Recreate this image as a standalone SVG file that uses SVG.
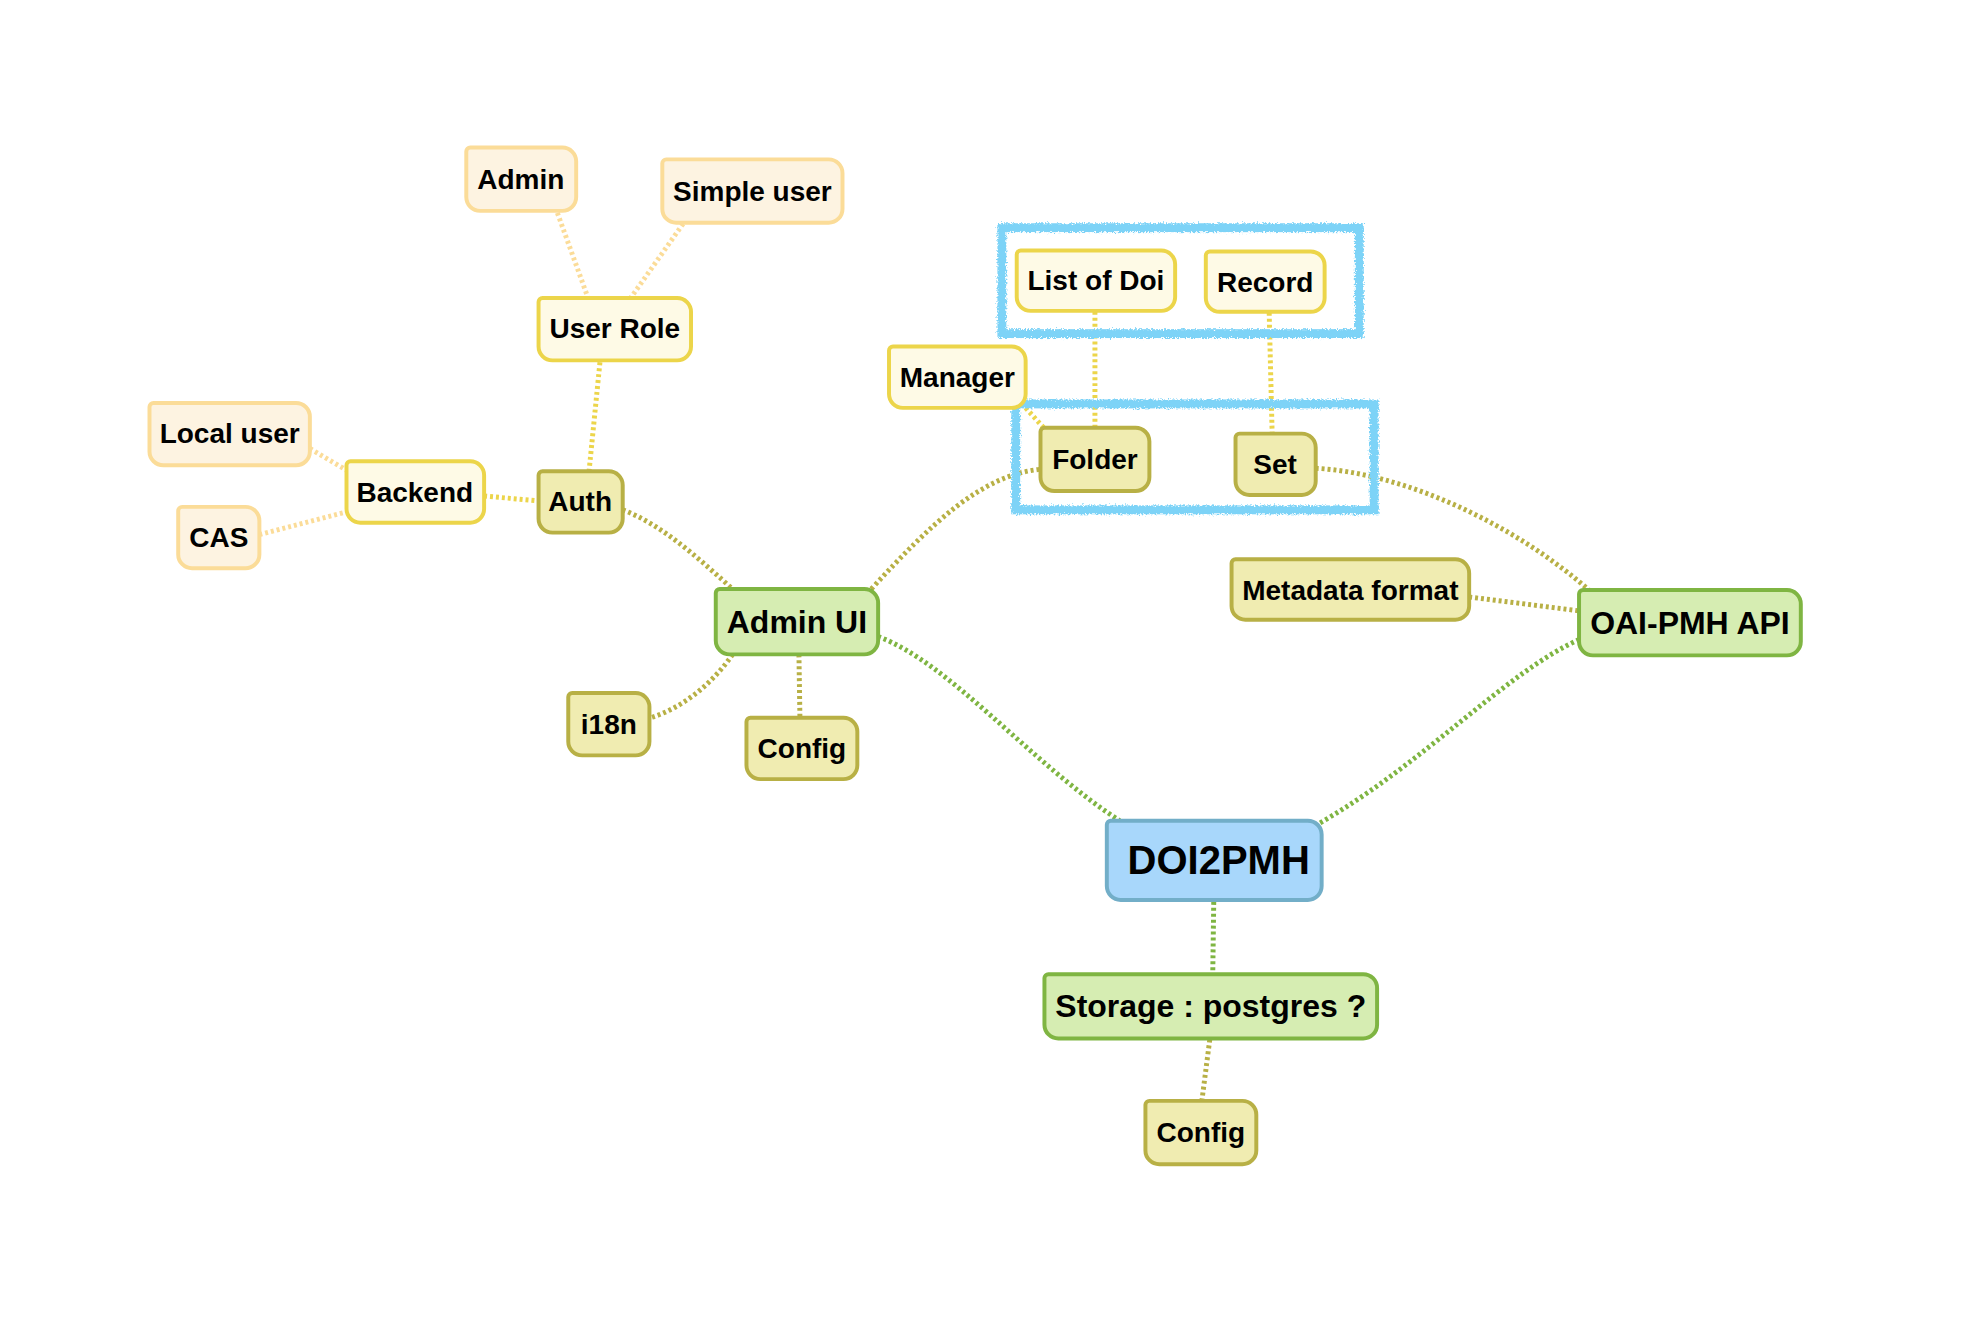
<svg xmlns="http://www.w3.org/2000/svg" width="1980" height="1334" viewBox="0 0 1980 1334">
<defs>
<filter id="rough" x="-5%" y="-10%" width="110%" height="120%">
<feTurbulence type="fractalNoise" baseFrequency="0.6" numOctaves="2" seed="3" result="n"/>
<feDisplacementMap in="SourceGraphic" in2="n" scale="6" xChannelSelector="R" yChannelSelector="G"/>
</filter>
</defs>
<style>
text{font-family:"Liberation Sans",Arial,sans-serif;font-weight:bold;fill:#000;text-anchor:middle;dominant-baseline:central}
.s{font-size:28.3px}
.m{font-size:32.3px}
.l{font-size:40.4px}
.node path{stroke-width:4}
.or path{fill:#fdf3e1;stroke:#fbdc98}
.ye path{fill:#fefae6;stroke:#ecd54a}
.ol path{fill:#f0ecb1;stroke:#b8b045}
.gr path{fill:#d6edb2;stroke:#7fb542}
.bl path{fill:#a8d7fb;stroke:#72aec8}
.c{fill:none;stroke-width:5;stroke-dasharray:3 3}
.co{stroke:#fbdc98}
.cy{stroke:#ecd54a}
.cl{stroke:#b8b045}
.cg{stroke:#7fb542}
.frame{fill:none;stroke:#7dd3f7;stroke-width:9;filter:url(#rough)}
</style>
<rect width="1980" height="1334" fill="#fff"/>
<g transform="scale(0.99)">
<g id="connectors">
<path class="c co" d="M563 215 L594 301"/>
<path class="c co" d="M690 226 L637 301"/>
<path class="c cy" d="M606 366 L595 476"/>
<path class="c co" d="M313 453 L350 475"/>
<path class="c co" d="M262 540 L350 517"/>
<path class="c cy" d="M489 501 L544 506"/>
<path class="c cl" d="M629 515 C670 530 712 570 740 595"/>
<path class="c cl" d="M880 595 C940 530 990 480 1051 474"/>
<path class="c cy" d="M1036 412 L1056 434"/>
<path class="c cy" d="M1106 315 L1106 432"/>
<path class="c cy" d="M1282 316 L1285 438"/>
<path class="c cl" d="M1329 473 C1420 478 1530 530 1605 596"/>
<path class="c cl" d="M1484 603 L1595 617"/>
<path class="c cg" d="M1595 646 C1520 680 1440 770 1332 832"/>
<path class="c cg" d="M887 643 C960 670 1040 770 1131 829"/>
<path class="c cl" d="M740 661 C720 690 690 715 657 725"/>
<path class="c cl" d="M807 661 L808 725"/>
<path class="c cg" d="M1226 911 L1225 984"/>
<path class="c cl" d="M1222 1050 L1214 1112"/>
</g>
<g id="frame-top"><rect class="frame" x="1012" y="230" width="361" height="107"/></g>
<g id="frame-bottom"><rect class="frame" x="1026" y="408" width="362" height="107"/></g>
<g id="admin" class="node or"><path d="M475 149H568A14 14 0 0 1 582 163V199A14 14 0 0 1 568 213H485A14 14 0 0 1 471 199V153A4 4 0 0 1 475 149Z"/><text class="s" x="526" y="181">Admin</text></g>
<g id="simple-user" class="node or"><path d="M673 161H837A14 14 0 0 1 851 175V211A14 14 0 0 1 837 225H683A14 14 0 0 1 669 211V165A4 4 0 0 1 673 161Z"/><text class="s" x="760" y="193">Simple user</text></g>
<g id="user-role" class="node ye"><path d="M548 301H684A14 14 0 0 1 698 315V350A14 14 0 0 1 684 364H558A14 14 0 0 1 544 350V305A4 4 0 0 1 548 301Z"/><text class="s" x="621" y="332">User Role</text></g>
<g id="local-user" class="node or"><path d="M155 407H299A14 14 0 0 1 313 421V456A14 14 0 0 1 299 470H165A14 14 0 0 1 151 456V411A4 4 0 0 1 155 407Z"/><text class="s" x="232" y="438">Local user</text></g>
<g id="backend" class="node ye"><path d="M354 466H475A14 14 0 0 1 489 480V514A14 14 0 0 1 475 528H364A14 14 0 0 1 350 514V470A4 4 0 0 1 354 466Z"/><text class="s" x="419" y="497">Backend</text></g>
<g id="cas" class="node or"><path d="M184 512H248A14 14 0 0 1 262 526V560A14 14 0 0 1 248 574H194A14 14 0 0 1 180 560V516A4 4 0 0 1 184 512Z"/><text class="s" x="221" y="543">CAS</text></g>
<g id="auth" class="node ol"><path d="M548 476H615A14 14 0 0 1 629 490V524A14 14 0 0 1 615 538H558A14 14 0 0 1 544 524V480A4 4 0 0 1 548 476Z"/><text class="s" x="586" y="507">Auth</text></g>
<g id="admin-ui" class="node gr"><path d="M727 595H873A14 14 0 0 1 887 609V647A14 14 0 0 1 873 661H737A14 14 0 0 1 723 647V599A4 4 0 0 1 727 595Z"/><text class="m" x="805" y="628">Admin UI</text></g>
<g id="i18n" class="node ol"><path d="M578 700H642A14 14 0 0 1 656 714V749A14 14 0 0 1 642 763H588A14 14 0 0 1 574 749V704A4 4 0 0 1 578 700Z"/><text class="s" x="615" y="732">i18n</text></g>
<g id="config-ui" class="node ol"><path d="M758 725H852A14 14 0 0 1 866 739V773A14 14 0 0 1 852 787H768A14 14 0 0 1 754 773V729A4 4 0 0 1 758 725Z"/><text class="s" x="810" y="756">Config</text></g>
<g id="manager" class="node ye"><path d="M902 350H1022A14 14 0 0 1 1036 364V398A14 14 0 0 1 1022 412H912A14 14 0 0 1 898 398V354A4 4 0 0 1 902 350Z"/><text class="s" x="967" y="381">Manager</text></g>
<g id="list-of-doi" class="node ye"><path d="M1031 253H1173A14 14 0 0 1 1187 267V300A14 14 0 0 1 1173 314H1041A14 14 0 0 1 1027 300V257A4 4 0 0 1 1031 253Z"/><text class="s" x="1107" y="283">List of Doi</text></g>
<g id="record" class="node ye"><path d="M1222 254H1324A14 14 0 0 1 1338 268V301A14 14 0 0 1 1324 315H1232A14 14 0 0 1 1218 301V258A4 4 0 0 1 1222 254Z"/><text class="s" x="1278" y="285">Record</text></g>
<g id="folder" class="node ol"><path d="M1055 432H1147A14 14 0 0 1 1161 446V482A14 14 0 0 1 1147 496H1065A14 14 0 0 1 1051 482V436A4 4 0 0 1 1055 432Z"/><text class="s" x="1106" y="464">Folder</text></g>
<g id="set" class="node ol"><path d="M1252 438H1315A14 14 0 0 1 1329 452V486A14 14 0 0 1 1315 500H1262A14 14 0 0 1 1248 486V442A4 4 0 0 1 1252 438Z"/><text class="s" x="1288" y="469">Set</text></g>
<g id="metadata-format" class="node ol"><path d="M1248 565H1470A14 14 0 0 1 1484 579V612A14 14 0 0 1 1470 626H1258A14 14 0 0 1 1244 612V569A4 4 0 0 1 1248 565Z"/><text class="s" x="1364" y="596">Metadata format</text></g>
<g id="oai-pmh-api" class="node gr"><path d="M1599 596H1805A14 14 0 0 1 1819 610V648A14 14 0 0 1 1805 662H1609A14 14 0 0 1 1595 648V600A4 4 0 0 1 1599 596Z"/><text class="m" x="1707" y="629">OAI-PMH API</text></g>
<g id="doi2pmh" class="node bl"><path d="M1122 829H1321A14 14 0 0 1 1335 843V895A14 14 0 0 1 1321 909H1132A14 14 0 0 1 1118 895V833A4 4 0 0 1 1122 829Z"/><text class="l" x="1231" y="869">DOI2PMH</text></g>
<g id="storage" class="node gr"><path d="M1059 984H1377A14 14 0 0 1 1391 998V1035A14 14 0 0 1 1377 1049H1069A14 14 0 0 1 1055 1035V988A4 4 0 0 1 1059 984Z"/><text class="m" x="1223" y="1016">Storage : postgres ?</text></g>
<g id="config-storage" class="node ol"><path d="M1161 1112H1255A14 14 0 0 1 1269 1126V1162A14 14 0 0 1 1255 1176H1171A14 14 0 0 1 1157 1162V1116A4 4 0 0 1 1161 1112Z"/><text class="s" x="1213" y="1144">Config</text></g>
</g>
</svg>
